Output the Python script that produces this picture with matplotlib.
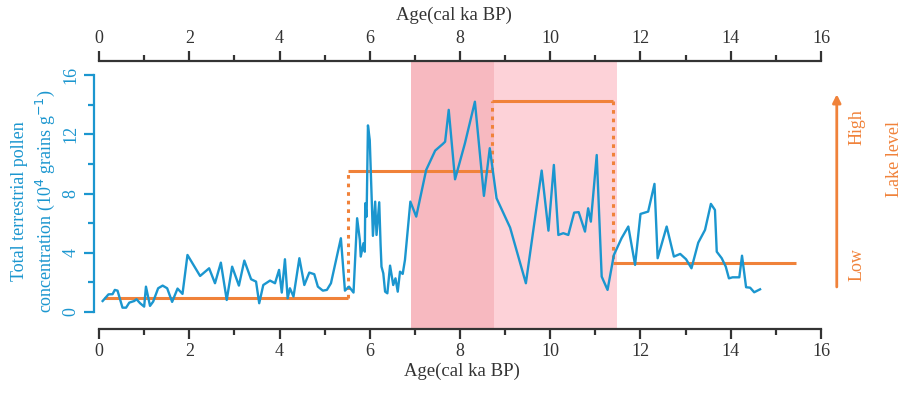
import matplotlib.pyplot as plt

plt.rcParams['font.family'] = ['Liberation Serif', 'DejaVu Serif']

# pollen concentration (10^4 grains/g) vs age (cal ka BP)
age = [0.08, 0.21, 0.30, 0.35, 0.41, 0.52, 0.60, 0.67, 0.78, 0.83, 0.91, 1.00, 1.04,
       1.13, 1.20, 1.31, 1.41, 1.51, 1.62, 1.74, 1.85, 1.96, 2.24, 2.44, 2.57, 2.70,
       2.83, 2.95, 3.10, 3.22, 3.37, 3.48, 3.55, 3.64, 3.79, 3.90, 3.99, 4.05, 4.12,
       4.18, 4.23, 4.31, 4.44, 4.55, 4.66, 4.77, 4.85, 4.96, 5.05, 5.14, 5.36, 5.45,
       5.54, 5.64, 5.72, 5.78, 5.80, 5.86, 5.89, 5.90, 5.93, 5.96, 6.00, 6.07, 6.12,
       6.15, 6.21, 6.24, 6.26, 6.30, 6.34, 6.39, 6.45, 6.52, 6.57, 6.62, 6.67, 6.73,
       6.78, 6.90, 7.03, 7.25, 7.45, 7.62, 7.67, 7.75, 7.89, 8.11, 8.33, 8.53, 8.66,
       8.81, 9.11, 9.46, 9.81, 9.96, 10.08, 10.18, 10.29, 10.40, 10.53, 10.63, 10.77,
       10.84, 10.90, 11.03, 11.14, 11.27, 11.41, 11.58, 11.73, 11.88, 12.00, 12.17,
       12.31, 12.38, 12.58, 12.74, 12.88, 13.01, 13.13, 13.28, 13.43, 13.56, 13.65,
       13.69, 13.80, 13.89, 13.96, 14.04, 14.19, 14.25, 14.34, 14.43, 14.52, 14.65]
pollen = [0.74, 1.19, 1.20, 1.49, 1.44, 0.29, 0.29, 0.63, 0.74, 0.86, 0.59, 0.36, 1.71,
          0.41, 0.70, 1.60, 1.78, 1.60, 0.68, 1.58, 1.22, 3.85, 2.43, 2.95, 1.94, 3.33,
          0.81, 3.06, 1.78, 3.47, 2.21, 2.05, 0.59, 1.82, 2.12, 1.94, 2.84, 1.31, 3.56,
          0.92, 1.60, 1.04, 3.63, 1.82, 2.66, 2.55, 1.71, 1.44, 1.49, 1.94, 4.98, 1.44,
          1.71, 1.31, 6.33, 4.86, 3.74, 4.64, 4.07, 7.34, 6.44, 12.6, 11.6, 5.14, 7.45,
          5.20, 7.41, 4.53, 3.06, 2.61, 1.37, 1.26, 3.13, 1.82, 2.27, 1.37, 2.72, 2.57,
          3.51, 7.45, 6.44, 9.59, 10.9, 11.35, 11.5, 13.65, 8.96, 11.4, 14.2, 7.84, 11.06,
          7.68, 5.70, 1.94, 9.55, 5.49, 9.93, 5.20, 5.32, 5.20, 6.71, 6.74, 5.43,
          7.00, 6.10, 10.6, 2.39, 1.49, 3.85, 4.98, 5.77, 3.18, 6.62, 6.78,
          8.65, 3.63, 5.77, 3.74, 3.92, 3.56, 2.95, 4.68, 5.54, 7.30, 6.89,
          4.07, 3.63, 3.06, 2.27, 2.34, 2.34, 3.80, 1.67, 1.64, 1.33, 1.53]

# lake level steps: (start age, end age, level on pollen scale)
lake_start = [0.1, 5.52, 8.70, 11.38]
lake_end = [5.52, 8.70, 11.38, 15.44]
lake_level = [0.97, 9.53, 14.26, 3.31]

dark_span = (6.91, 8.75)
light_span = (8.75, 11.48)

blue = '#1b96cf'
orange = '#f0823a'

fig = plt.figure(figsize=(9.08, 3.94), dpi=100)
ax = fig.add_axes([0.1031, 0.1650, 0.8110, 0.6802])

ax.axvspan(*dark_span, color='#f7b9c0', lw=0, zorder=0)
ax.axvspan(*light_span, color='#fdd2d8', lw=0, zorder=0)

for i in range(len(lake_level)):
    ax.plot([lake_start[i], lake_end[i]], [lake_level[i], lake_level[i]],
            color=orange, lw=2.2, solid_capstyle='butt', zorder=2)
    if i > 0:
        ax.plot([lake_start[i], lake_start[i]], [lake_level[i - 1], lake_level[i]],
                color=orange, lw=2.2, ls=(0, (1.2, 1.6)), zorder=2)

ax.plot(age, pollen, color=blue, lw=1.7, zorder=3)

ax.set_xlim(-0.12, 16.2)
ax.set_ylim(-1.15, 16.95)

for s in ['right']:
    ax.spines[s].set_visible(False)
ax.spines['left'].set_bounds(0, 16)
ax.spines['left'].set_color(blue)
ax.spines['bottom'].set_bounds(0, 16)
ax.spines['top'].set_bounds(0, 16)
for s in ['left', 'bottom', 'top']:
    ax.spines[s].set_linewidth(1.6)
ax.spines['bottom'].set_color('#333333')
ax.spines['top'].set_color('#333333')

ax.set_xticks(range(0, 17, 2))
ax.set_xticks(range(1, 16, 2), minor=True)
ax.set_yticks(range(0, 17, 4))
ax.set_yticks(range(2, 16, 4), minor=True)

ax.tick_params(axis='x', which='both', top=True, labeltop=True, bottom=True,
               labelbottom=True, direction='out', color='#333333', width=1.6,
               labelsize=13, labelcolor='#333333', pad=3)
ax.tick_params(axis='x', which='major', length=7)
ax.tick_params(axis='x', which='minor', length=4)
ax.tick_params(axis='y', which='both', direction='out', color=blue, width=1.6,
               labelsize=13, labelcolor=blue, labelrotation=90, pad=3)
ax.tick_params(axis='y', which='major', length=7)
ax.tick_params(axis='y', which='minor', length=4)
for lbl in ax.get_yticklabels():
    lbl.set_va('center')

ax.set_xlabel('Age(cal ka BP)', fontsize=13.5, color='#333333', labelpad=2)
fig.text(0.5, 0.96, 'Age(cal ka BP)', fontsize=13.5, color='#333333',
         ha='center', va='center')
fig.text(0.022, 0.49, 'Total terrestrial pollen', fontsize=13, color=blue,
         rotation=90, ha='center', va='center')
fig.text(0.05, 0.49, 'concentration (10$^{4}$ grains g$^{-1}$)', fontsize=13,
         color=blue, rotation=90, ha='center', va='center')

ax.annotate('', xy=(16.35, 14.7), xytext=(16.35, 1.69), annotation_clip=False,
            arrowprops=dict(arrowstyle='-|>', color=orange, lw=2,
                            mutation_scale=12, shrinkA=0, shrinkB=0))
ax.text(16.8, 12.5, 'High', rotation=90, fontsize=13, color=orange,
        ha='center', va='center', clip_on=False)
ax.text(16.8, 3.2, 'Low', rotation=90, fontsize=13, color=orange,
        ha='center', va='center', clip_on=False)
ax.text(17.64, 10.3, 'Lake level', rotation=90, fontsize=13, color=orange,
        ha='center', va='center', clip_on=False)

fig.savefig('out.png', dpi=100)
